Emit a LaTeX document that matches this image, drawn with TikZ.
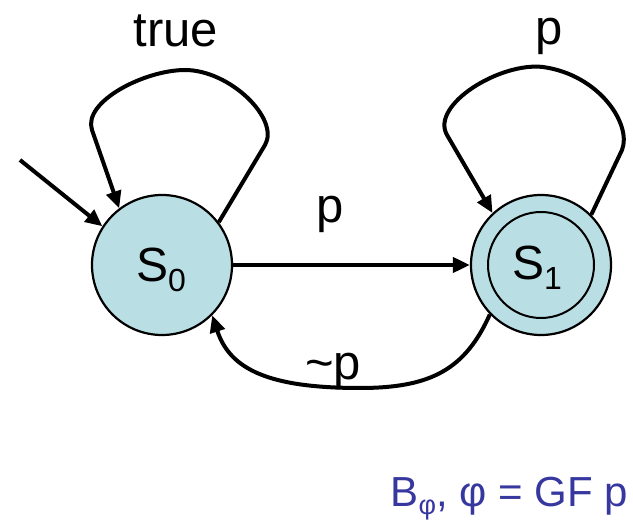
\documentclass[tikz,border=0pt]{standalone}
\usepackage{fontspec}
\setmainfont{Liberation Sans}
\usetikzlibrary{arrows.meta}
\definecolor{statefill}{RGB}{185,223,228}
\definecolor{capblue}{RGB}{55,55,160}
\begin{document}
\begin{tikzpicture}[x=1pt,y=-1pt,
  state/.style={circle,draw=black,line width=2.2pt,fill=statefill,minimum size=140pt,inner sep=0pt,
    font=\fontsize{47}{50}\selectfont},
  innerring/.style={circle,draw=black,line width=2pt,minimum size=106pt,inner sep=0pt},
  edge/.style={line width=4pt,-{Triangle[length=17pt,width=15pt]}},
  lbl/.style={font=\fontsize{49}{52}\selectfont,inner sep=0pt,anchor=base}]
\useasboundingbox (0,0) rectangle (633,521);
\node[state] (s0) at (162,265) {};
\node[state] (s1) at (541,265) {};
\node[innerring] (s1in) at (s1) {};
\node[font=\fontsize{48}{50}\selectfont,inner sep=0pt,anchor=base] (t0) at (161,282) {S\raisebox{-10pt}{\fontsize{32}{32}\selectfont 0}};
\node[font=\fontsize{48}{50}\selectfont,inner sep=0pt,anchor=base] (t1) at (537,280) {S\raisebox{-10pt}{\fontsize{32}{32}\selectfont 1}};
% initial arrow
\coordinate (init) at (20,160);
\draw[edge] (init) -- (s0.147);
% self loop s0
\draw[edge] (s0.37) -- (265,145) .. controls (280,119) and (230,70) .. (185,70)
   .. controls (145,70) and (82.5,101.5) .. (92,130) -- (s0.127);
% self loop s1
\draw[edge] (s1.45) -- (622,150) .. controls (632,125) and (600,75) .. (543,67)
   .. controls (500,62) and (430,105) .. (447,135) -- (s1.133);
% s0 -> s1
\draw[edge] (s0) -- (s1);
% s1 -> s0
\draw[edge] (s1.224) .. controls (465,370) and (430,388) .. (360,388)
   .. controls (270,388) and (230,370) .. (s0.315);
% labels
\node[lbl] (ltrue) at (176,47) {true};
\node[lbl] (lp1) at (549,45) {p};
\node[lbl] (lp) at (330,223) {p};
\node[lbl] (lnp) at (333,380) {\textasciitilde p};
\node[font=\fontsize{42}{46}\selectfont,text=capblue,inner sep=0pt,anchor=base east] (cap) at (628,507)
  {B\raisebox{-8pt}{\fontsize{27}{27}\selectfont φ}, φ = GF p};
\end{tikzpicture}
\end{document}
